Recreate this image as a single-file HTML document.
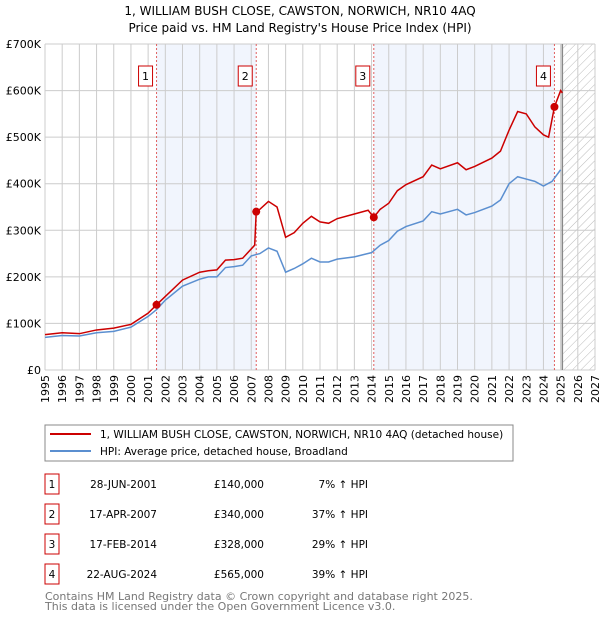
<!DOCTYPE html>
<html><head><meta charset="utf-8"><style>
body{margin:0;background:#fff;font-family:"DejaVu Sans","Liberation Sans",sans-serif;}
svg text{font-family:"DejaVu Sans","Liberation Sans",sans-serif;}
</style></head><body>
<svg id="c" width="600" height="620" xmlns="http://www.w3.org/2000/svg">
<defs><pattern id="hatch" width="6" height="6" patternUnits="userSpaceOnUse" patternTransform="rotate(45)"><line x1="0" y1="0" x2="0" y2="6" stroke="#bbb" stroke-width="1"/></pattern></defs>
<text x="300" y="15" text-anchor="middle" font-size="12">1, WILLIAM BUSH CLOSE, CAWSTON, NORWICH, NR10 4AQ</text>
<text x="300" y="32" text-anchor="middle" font-size="12">Price paid vs. HM Land Registry's House Price Index (HPI)</text>
<g id="plot"></g>
<rect x="45" y="425" width="468" height="36" fill="#fff" stroke="#888"/>
<line x1="50" y1="434" x2="91" y2="434" stroke="#cc0000" stroke-width="2"/>
<text x="100" y="438" font-size="10.5">1, WILLIAM BUSH CLOSE, CAWSTON, NORWICH, NR10 4AQ (detached house)</text>
<line x1="50" y1="451" x2="91" y2="451" stroke="#5b8fd0" stroke-width="2"/>
<text x="100" y="455" font-size="10.5">HPI: Average price, detached house, Broadland</text>
<g id="table" font-size="10.5"></g>
<text x="45" y="600" font-size="11" fill="#777">Contains HM Land Registry data © Crown copyright and database right 2025.</text>
<text x="45" y="610" font-size="11" fill="#777">This data is licensed under the Open Government Licence v3.0.</text>
</svg>
<script>
const hpiYears=[1995,1996,1997,1998,1999,2000,2001,2001.5,2002,2003,2004,2004.5,2005,2005.5,2006,2006.5,2007,2007.5,2008,2008.5,2009,2009.5,2010,2010.5,2011,2011.5,2012,2013,2014,2014.5,2015,2015.5,2016,2017,2017.5,2018,2019,2019.5,2020,2021,2021.5,2022,2022.5,2023,2023.5,2024,2024.5,2025];
const hpiValues=[70,74,73,80,83,92,115,130,150,180,195,200,200,220,222,225,245,250,262,255,210,218,228,240,232,232,238,243,252,268,278,298,308,320,340,335,345,333,338,352,365,400,415,410,405,395,405,430];
const priceYears=[1995,1996,1997,1998,1999,2000,2001,2001.49,2002,2003,2004,2004.5,2005,2005.5,2006,2006.5,2007.2,2007.29,2007.5,2008,2008.5,2009,2009.5,2010,2010.5,2011,2011.5,2012,2013,2013.8,2014.13,2014.5,2015,2015.5,2016,2017,2017.5,2018,2019,2019.5,2020,2021,2021.5,2022,2022.5,2023,2023.5,2024,2024.3,2024.64,2025,2025.1];
const priceValues=[76,80,78,86,90,98,122,140,158,193,210,213,215,236,237,240,268,340,345,362,350,285,295,315,330,318,315,325,335,343,328,345,358,385,398,415,440,432,445,430,437,455,470,515,555,550,522,505,500,565,600,595];
const saleLabels=["1","2","3","4"];
const saleDates=[2001.49,2007.29,2014.13,2024.64];
const salePrices=[140,340,328,565];
const saleDateText=["28-JUN-2001","17-APR-2007","17-FEB-2014","22-AUG-2024"];
const salePriceText=["£140,000","£340,000","£328,000","£565,000"];
const saleHpiText=["7% ↑ HPI","37% ↑ HPI","29% ↑ HPI","39% ↑ HPI"];
const yTicks=[0,100,200,300,400,500,600,700];
const yTickLabels=["£0","£100K","£200K","£300K","£400K","£500K","£600K","£700K"];
const NS="http://www.w3.org/2000/svg";
const X0=45,X1=595,Y0=370,Y1=44;
const xs=y=>X0+(y-1995)*(X1-X0)/32;
const ys=v=>Y0-v*(Y0-Y1)/700;
const g=document.getElementById('plot');
function mk(t,a,p){const e=document.createElementNS(NS,t);for(const k in a)e.setAttribute(k,a[k]);(p||g).appendChild(e);return e;}
// shading
for(const [a,b] of [[0,1],[2,3]]){
 const r=mk('rect',{x:xs(saleDates[a]),y:Y1,width:xs(saleDates[b])-xs(saleDates[a]),height:Y0-Y1,fill:'#eef3fc',opacity:0.8});
 
 
}
const h=mk('rect',{x:xs(2025.1),y:Y1,width:X1-xs(2025.1),height:Y0-Y1,fill:'url(#hatch)'});


// grid
for(let yr=1995;yr<=2027;yr++){
 const l=mk('line',{x1:xs(yr),x2:xs(yr),y1:Y1,y2:Y0,stroke:'#ccc','stroke-width':1});
 
 
 const t=mk('text',{x:0,y:0,'font-size':11,'text-anchor':'end',transform:`translate(${xs(yr)+4},${Y0+5}) rotate(-90)`});
 t.textContent=yr;
 
 
}
yTicks.forEach((v,i)=>{
 const l=mk('line',{x1:X0,x2:X1,y1:ys(v),y2:ys(v),stroke:'#ccc','stroke-width':1});
 
 
 const t=mk('text',{x:X0-4,y:ys(v)+4,'font-size':11,'text-anchor':'end'});
 t.textContent=yTickLabels[i];
 
 
});
const bl=mk('line',{x1:xs(2025.1),x2:xs(2025.1),y1:Y1,y2:Y0,stroke:'#888','stroke-width':1.5});


saleDates.forEach((d,i)=>{
 const l=mk('line',{x1:xs(d),x2:xs(d),y1:Y1,y2:Y0,stroke:'#e06060','stroke-width':1,'stroke-dasharray':'2,2'});
 
 
 const r=mk('rect',{x:xs(d)-18,y:66,width:14,height:20,fill:'#fff',stroke:'#cc0000'});
 
 
 const t=mk('text',{x:xs(d)-11,y:80,'font-size':11,'text-anchor':'middle'});
 t.textContent=saleLabels[i];
 
 
});
const hp=mk('polyline',{points:hpiYears.map((y,i)=>xs(y)+','+ys(hpiValues[i])).join(' '),fill:'none',stroke:'#5b8fd0','stroke-width':1.5});


const pp=mk('polyline',{points:priceYears.map((y,i)=>xs(y)+','+ys(priceValues[i])).join(' '),fill:'none',stroke:'#cc0000','stroke-width':1.5});


saleDates.forEach((d,i)=>{
 const c=mk('circle',{cx:xs(d),cy:ys(salePrices[i]),r:4,fill:'#cc0000'});
 
 
});
const tb=document.getElementById('table');
saleLabels.forEach((s,i)=>{
 const y=487+i*30;
 const r=mk('rect',{x:45,y:y-13,width:14,height:20,fill:'#fff',stroke:'#cc0000'},tb);
 
 
 const cells=[[52,'middle',s,'table-label'],[157,'end',saleDateText[i],'table-date'],[264,'end',salePriceText[i],'table-price'],[368,'end',saleHpiText[i],'table-hpi']];
 for(const [x,a,txt,n] of cells){
  const t=mk('text',{x:x,y:y+1,'text-anchor':a},tb);
  t.textContent=txt;
  
  
 }
});
</script>
</body></html>
